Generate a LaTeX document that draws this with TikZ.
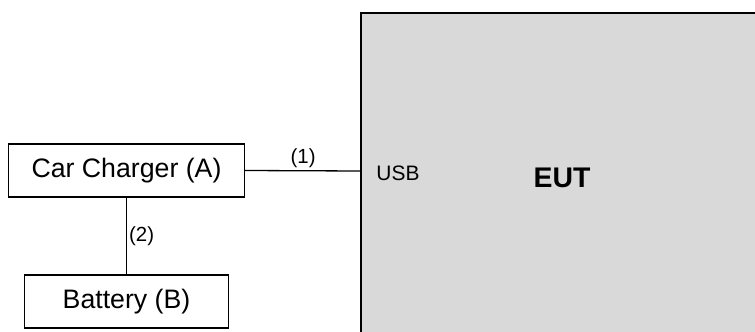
\documentclass[tikz,border=0pt]{standalone}
\usepackage{fontspec}
\setmainfont{Liberation Sans}
\usetikzlibrary{positioning}
\definecolor{eutgray}{HTML}{D9D9D9}

\tikzset{
  unitbox/.style={draw, line width=1.3bp, minimum height=53bp, inner sep=0pt,
    font=\fontsize{26.8}{30}\selectfont},
  cablelabel/.style={font=\fontsize{20.5}{24}\selectfont, inner sep=2bp}
}

\begin{document}
\begin{tikzpicture}[x=1bp,y=1bp]

\useasboundingbox (0,0) rectangle (755,331);
\clip (0,0) rectangle (755,331);

% equipment under test
\filldraw[fill=eutgray, line width=1.5bp] (361,318) rectangle (780,-20);
\coordinate (usbport) at (361,160);
\node[font=\fontsize{21}{24}\selectfont] (usb) at (398,157.5) {USB};
\node[font=\fontsize{28.5}{32}\selectfont\bfseries] (eut) at (562,153.5) {EUT};

\node[unitbox, minimum width=236bp] (charger) at (126.5,160.5) {Car Charger (A)};
\node[unitbox, minimum width=204bp] (battery) at (126.5,29.5) {Battery (B)};

\draw[line width=1.3bp] (charger.east) -- node[cablelabel, above] {(1)} (usbport);
\draw[line width=1.3bp] (charger.south) -- node[cablelabel, right] {(2)} (battery.north);

\end{tikzpicture}
\end{document}
